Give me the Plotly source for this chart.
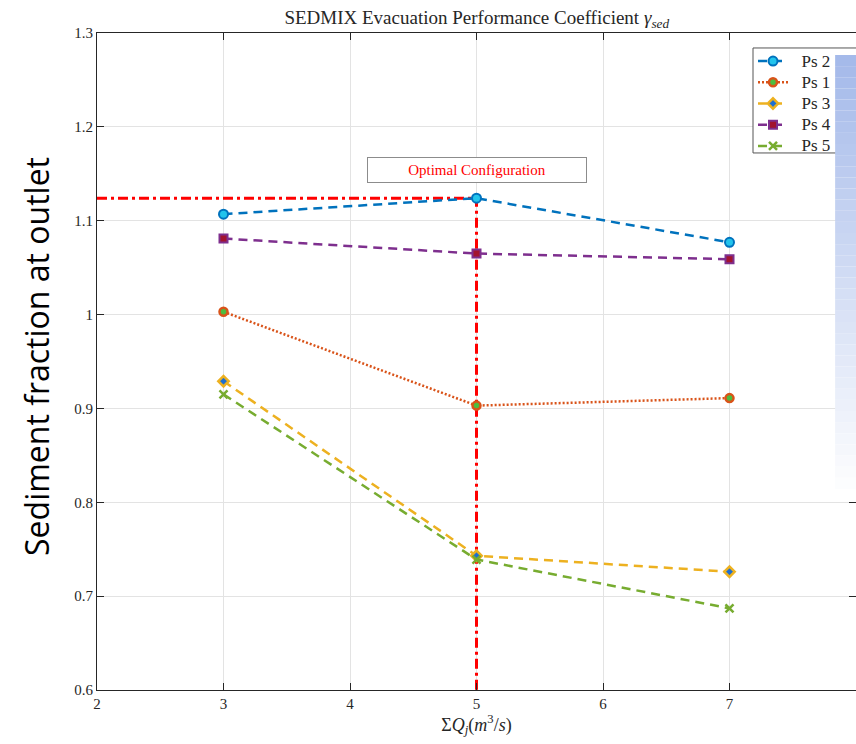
import plotly.graph_objects as go

x_vals = [3, 5, 7]
series_names = ["Ps 2", "Ps 1", "Ps 3", "Ps 4", "Ps 5"]
ps2 = [1.107, 1.124, 1.077]
ps1 = [1.003, 0.903, 0.911]
ps3 = [0.929, 0.743, 0.726]
ps4 = [1.081, 1.065, 1.059]
ps5 = [0.915, 0.739, 0.687]
optimal_x = 5
optimal_y = 1.124
x_ticks = [2, 3, 4, 5, 6, 7, 8]
y_ticks = [0.6, 0.7, 0.8, 0.9, 1.0, 1.1, 1.2, 1.3]
y_tick_text = ["0.6", "0.7", "0.8", "0.9", "1", "1.1", "1.2", "1.3"]

SERIF = "Liberation Serif, DejaVu Serif, serif"

styles = [
    dict(line=dict(color="#0072BD", width=2.5, dash="9px,6px"),
         marker=dict(symbol="circle", size=9, color="#22C4EC", line=dict(color="#0072BD", width=2))),
    dict(line=dict(color="#D95319", width=2.5, dash="2px,2px"),
         marker=dict(symbol="circle", size=8, color="#4DBD3F", line=dict(color="#D95319", width=2.5))),
    dict(line=dict(color="#EDB120", width=2.5, dash="9px,6px"),
         marker=dict(symbol="diamond", size=8, color="#1F6FD0", line=dict(color="#EDB120", width=2.5))),
    dict(line=dict(color="#7E2F8E", width=2.5, dash="9px,6px"),
         marker=dict(symbol="square", size=8, color="#A2142F", line=dict(color="#7E2F8E", width=2))),
    dict(line=dict(color="#77AC30", width=2.5, dash="9px,6px"),
         marker=dict(symbol="x-thin", size=8, color="#77AC30", line=dict(color="#77AC30", width=2.5))),
]

fig = go.Figure()

# red optimal lines
fig.add_trace(go.Scatter(x=[2, optimal_x, optimal_x], y=[optimal_y, optimal_y, 0.6],
                         mode="lines", line=dict(color="#FF0000", width=3, dash="10px,4px,3px,4px"),
                         showlegend=False, hoverinfo="skip"))

for name, ys, st in zip(series_names, [ps2, ps1, ps3, ps4, ps5], styles):
    fig.add_trace(go.Scatter(x=x_vals, y=ys, mode="lines+markers", name=name,
                             legendgrouptitle=None,
                             line=st["line"], marker=st["marker"]))
    fig.data[-1].name = f"<span style='font-size:17px'>\u2002{name}</span>"

axis_common = dict(showline=True, linecolor="#262626", linewidth=1, mirror="ticks",
                   ticks="inside", ticklen=7, tickcolor="#262626",
                   showgrid=True, gridcolor="#E3E3E3", gridwidth=1, zeroline=False,
                   tickfont=dict(family=SERIF, size=15, color="#262626"))

fig.update_xaxes(range=[2, 8], tickvals=x_ticks, **axis_common,
                 title=dict(text="Σ<i>Q<sub>j</sub></i>(<i>m</i><sup>3</sup>/<i>s</i>)",
                            font=dict(family=SERIF, size=18, color="#262626"), standoff=6))
fig.update_yaxes(range=[0.6, 1.3], tickvals=y_ticks, ticktext=y_tick_text, **axis_common)

fig.add_annotation(x=optimal_x, y=1.154, xref="x", yref="y", text="Optimal Configuration",
                   showarrow=False, font=dict(family=SERIF, size=15, color="#FF0000"),
                   bordercolor="#8C8C8C", borderwidth=1, bgcolor="white", width=216, height=22)

fig.add_annotation(x=-0.079, y=0.507, xref="paper", yref="paper", text="Sediment fraction at outlet",
                   textangle=-90, showarrow=False, xanchor="center", yanchor="middle",
                   font=dict(family="Open Sans, Noto Sans, sans-serif", size=32, color="black"))

# legend box (white with border) drawn as a shape so the overlay can cover it
fig.add_shape(type="rect", xref="paper", yref="paper", x0=0.8643, x1=1.05, y0=0.8174, y1=0.9772,
              fillcolor="white", line=dict(color="#555555", width=1), layer="above")

# gradient overlay rectangle on right
n = 40
top_px, bot_px = 55, 500
for i in range(n):
    t = i / (n - 1)
    r = int(165 + (255 - 165) * t)
    g = int(186 + (255 - 186) * t)
    b = int(234 + (255 - 234) * t)
    y0 = 1 - (top_px - 33 + (bot_px - top_px) * i / n) / 657
    y1 = 1 - (top_px - 33 + (bot_px - top_px) * (i + 1) / n) / 657
    fig.add_shape(type="rect", xref="paper", yref="paper", x0=0.9725, x1=1.01, y0=y1, y1=y0,
                  fillcolor=f"rgb({r},{g},{b})", line=dict(width=0), layer="above")

fig.update_layout(
    width=856, height=744,
    margin=dict(l=97, r=0, t=33, b=54),
    plot_bgcolor="white", paper_bgcolor="white",
    title=dict(text="SEDMIX Evacuation Performance Coefficient <i>γ<sub>sed</sub></i>",
               x=0.557, xanchor="center", y=0.977, yanchor="middle",
               font=dict(family=SERIF, size=19, color="#262626")),
    legend=dict(x=0.8643, y=0.981, xanchor="left", yanchor="top",
                bgcolor="rgba(0,0,0,0)", borderwidth=0,
                font=dict(family=SERIF, size=14, color="#262626"),
                tracegroupgap=0),
    showlegend=True,
)

fig.write_html("out.html", config={"displayModeBar": False},
               post_script="document.body.style.margin='0';document.body.style.overflow='hidden';")
